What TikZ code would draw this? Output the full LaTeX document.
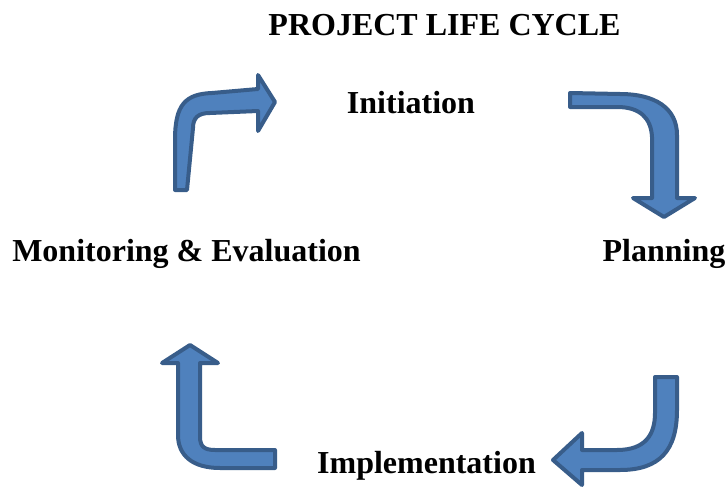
\documentclass[tikz,border=0pt]{standalone}
\usepackage{fontspec}
\setmainfont{Liberation Serif}
\definecolor{arrowfill}{HTML}{4F81BD}
\definecolor{arrowline}{HTML}{385D8A}

\begin{document}
\begin{tikzpicture}[x=1pt, y=-1pt, stage/.style={inner sep=0pt, anchor=base, font=\fontsize{32}{38}\selectfont\bfseries}, block arrow/.style={fill=arrowfill, draw=arrowline, line width=4pt, line join=round}]
\useasboundingbox (0,0) rectangle (728,487);
\node[stage] (title) at (444.5,36) {PROJECT LIFE CYCLE};
\node[stage] (init) at (411,113) {Initiation};
\node[stage] (plan) at (664,261) {Planning};
\node[stage] (impl) at (426.5,473) {Implementation};
\node[stage] (mon) at (186.5,261) {Monitoring \& Evaluation};
% monitoring -> initiation
\draw[block arrow] (175,190) -- (175,140) .. controls (175,105) and (185,94) .. (212,93) -- (258,89) -- (258,75) -- (275,102) -- (258,131) -- (258,111) -- (210,113) .. controls (198,113) and (193,118) .. (193,128) -- (187,190) -- cycle;
% initiation -> planning
\draw[block arrow] (570,93) -- (620,94) .. controls (655,94) and (677,108) .. (677,135) -- (677,198) -- (695,198) -- (664,217) -- (633,198) -- (652,198) -- (652,137) .. controls (651,118) and (640,107) .. (617,107) -- (570,107) -- cycle;
% planning -> implementation
\draw[block arrow] (655,377) -- (677,377) -- (677,410) .. controls (677,450) and (660,470) .. (620,470) -- (582,470) -- (582,485) -- (553,460) -- (582,433) -- (582,450) -- (617,450) .. controls (645,450) and (655,435) .. (655,413) -- cycle;
% implementation -> monitoring
\draw[block arrow] (190,345) -- (218,363) -- (200,363) -- (200,437) .. controls (200,447) and (205,450) .. (215,450) -- (275,450) -- (275,468) -- (220,468) .. controls (192,468) and (178,455) .. (178,435) -- (178,363) -- (162,363) -- cycle;
\end{tikzpicture}
\end{document}
